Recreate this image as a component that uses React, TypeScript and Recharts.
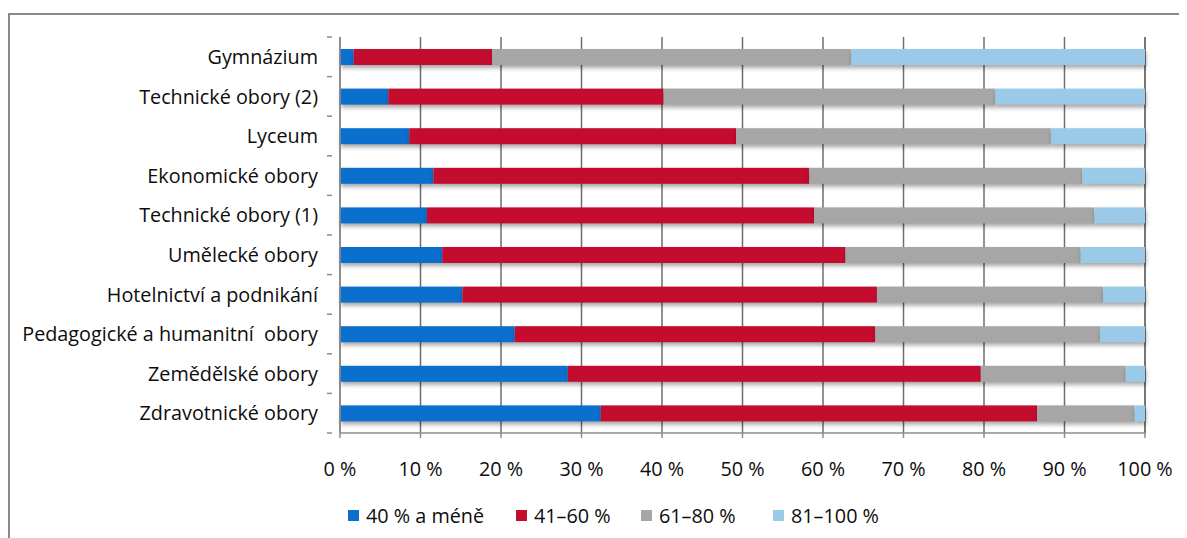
import React from "react";
import { BarChart, Bar, XAxis, YAxis, CartesianGrid, Legend } from "recharts";

const categories = [
  "Gymnázium",
  "Technické obory (2)",
  "Lyceum",
  "Ekonomické obory",
  "Technické obory (1)",
  "Umělecké obory",
  "Hotelnictví a podnikání",
  "Pedagogické a humanitní  obory",
  "Zemědělské obory",
  "Zdravotnické obory",
];
const s0_40 = [1.7, 6.0, 8.6, 11.6, 10.8, 12.7, 15.2, 21.7, 28.3, 32.4];
const s41_60 = [17.2, 34.2, 40.6, 46.7, 48.1, 50.1, 51.5, 44.8, 51.3, 54.2];
const s61_80 = [44.6, 41.2, 39.1, 33.9, 34.8, 29.2, 28.1, 27.9, 18.0, 12.1];
const s81_100 = [36.5, 18.6, 11.7, 7.8, 6.3, 8.0, 5.2, 5.6, 2.4, 1.3];
const seriesNames = ["40 % a méně", "41–60 %", "61–80 %", "81–100 %"];
const seriesKeys = ["a", "b", "c", "d"];
const seriesColors = ["#0B6FCE", "#C40C2F", "#A6A6A6", "#9BCAE9"];
const xTicks = [0, 10, 20, 30, 40, 50, 60, 70, 80, 90, 100];

const data = categories.map((name, i) => ({
  name,
  a: s0_40[i],
  b: s41_60[i],
  c: s61_80[i],
  d: s81_100[i],
}));

const FONT = "'Open Sans', Lato, sans-serif";
const FS = 19.8;

const ShadowRect = (props: any) => {
  const { x, y, width, height, fill } = props;
  if (!width || width <= 0) return null;
  return (
    <rect
      x={x}
      y={y}
      width={width}
      height={height}
      fill={fill}
      style={{ filter: "drop-shadow(1px 3px 2px rgba(0,0,0,0.35))" }}
    />
  );
};

const YTick = (props: any) => {
  const { x, y, payload, index } = props;
  const off = payload && typeof payload.offset === "number" ? payload.offset : 0;
  const ax = x;
  return (
    <g>
      <text
        x={ax - 14}
        y={y}
        dy="0.36em"
        textAnchor="end"
        fontFamily={FONT}
        fontSize={FS}
        fill="#0d0d0d"
        style={{ whiteSpace: "pre" }}
      >
        {payload.value}
      </text>
      {off > 0 && (
        <line x1={ax - 5} x2={ax} y1={y - off} y2={y - off} stroke="#8c8c8c" strokeWidth={1.5} />
      )}
      {off > 0 && index === categories.length - 1 && (
        <line x1={ax - 5} x2={ax} y1={y + off} y2={y + off} stroke="#8c8c8c" strokeWidth={1.5} />
      )}
    </g>
  );
};

const LegendContent = () => (
  <div
    style={{
      height: 45,
      display: "flex",
      alignItems: "center",
      paddingLeft: 338,
      fontFamily: FONT,
      fontSize: FS,
      color: "#0d0d0d",
    }}
  >
    {seriesNames.map((n, i) => (
      <div
        key={n}
        style={{
          display: "flex",
          alignItems: "center",
          width: [168, 125, 132, 140][i],
        }}
      >
        <span
          style={{
            display: "inline-block",
            width: 11,
            height: 11,
            background: seriesColors[i],
            marginRight: 7,
          }}
        />
        <span>{n}</span>
      </div>
    ))}
  </div>
);

export default function App() {
  return (
    <div style={{ paddingTop: 5, width: 1179, height: 525, overflow: "hidden" }}>
      <div
        style={{
          borderTop: "2px solid #8a8a8a",
          borderLeft: "2px solid #8a8a8a",
          width: 1200,
          height: 540,
        }}
      >
        <BarChart
          width={1177}
          height={523}
          data={data}
          layout="vertical"
          margin={{ top: 22, right: 42, bottom: 0, left: 0 }}
          barCategoryGap={0}
        >
          <CartesianGrid horizontal={false} vertical stroke="#6e6e6e" strokeWidth={1.5} />
          <XAxis
            type="number"
            domain={[0, 100]}
            ticks={xTicks}
            tickFormatter={(v: number) => `${v} %`}
            axisLine={{ stroke: "#8c8c8c", strokeWidth: 1.5 }}
            tickLine={{ stroke: "#8c8c8c", strokeWidth: 1.5 }}
            tickSize={5}
            tickMargin={24}
            height={60}
            tick={{ fontFamily: FONT, fontSize: FS, fill: "#0d0d0d" }}
            interval={0}
          />
          <YAxis
            type="category"
            dataKey="name"
            width={330}
            axisLine={{ stroke: "#8c8c8c", strokeWidth: 1.5 }}
            tickLine={false}
            tick={<YTick />}
            interval={0}
          />
          <Legend verticalAlign="bottom" height={45} content={<LegendContent />} wrapperStyle={{ left: 0, width: 1177 }} />
          {seriesKeys.map((k, i) => (
            <Bar
              key={k}
              dataKey={k}
              name={seriesNames[i]}
              stackId="s"
              fill={seriesColors[i]}
              barSize={16}
              isAnimationActive={false}
              shape={<ShadowRect />}
            />
          ))}
        </BarChart>
      </div>
    </div>
  );
}
